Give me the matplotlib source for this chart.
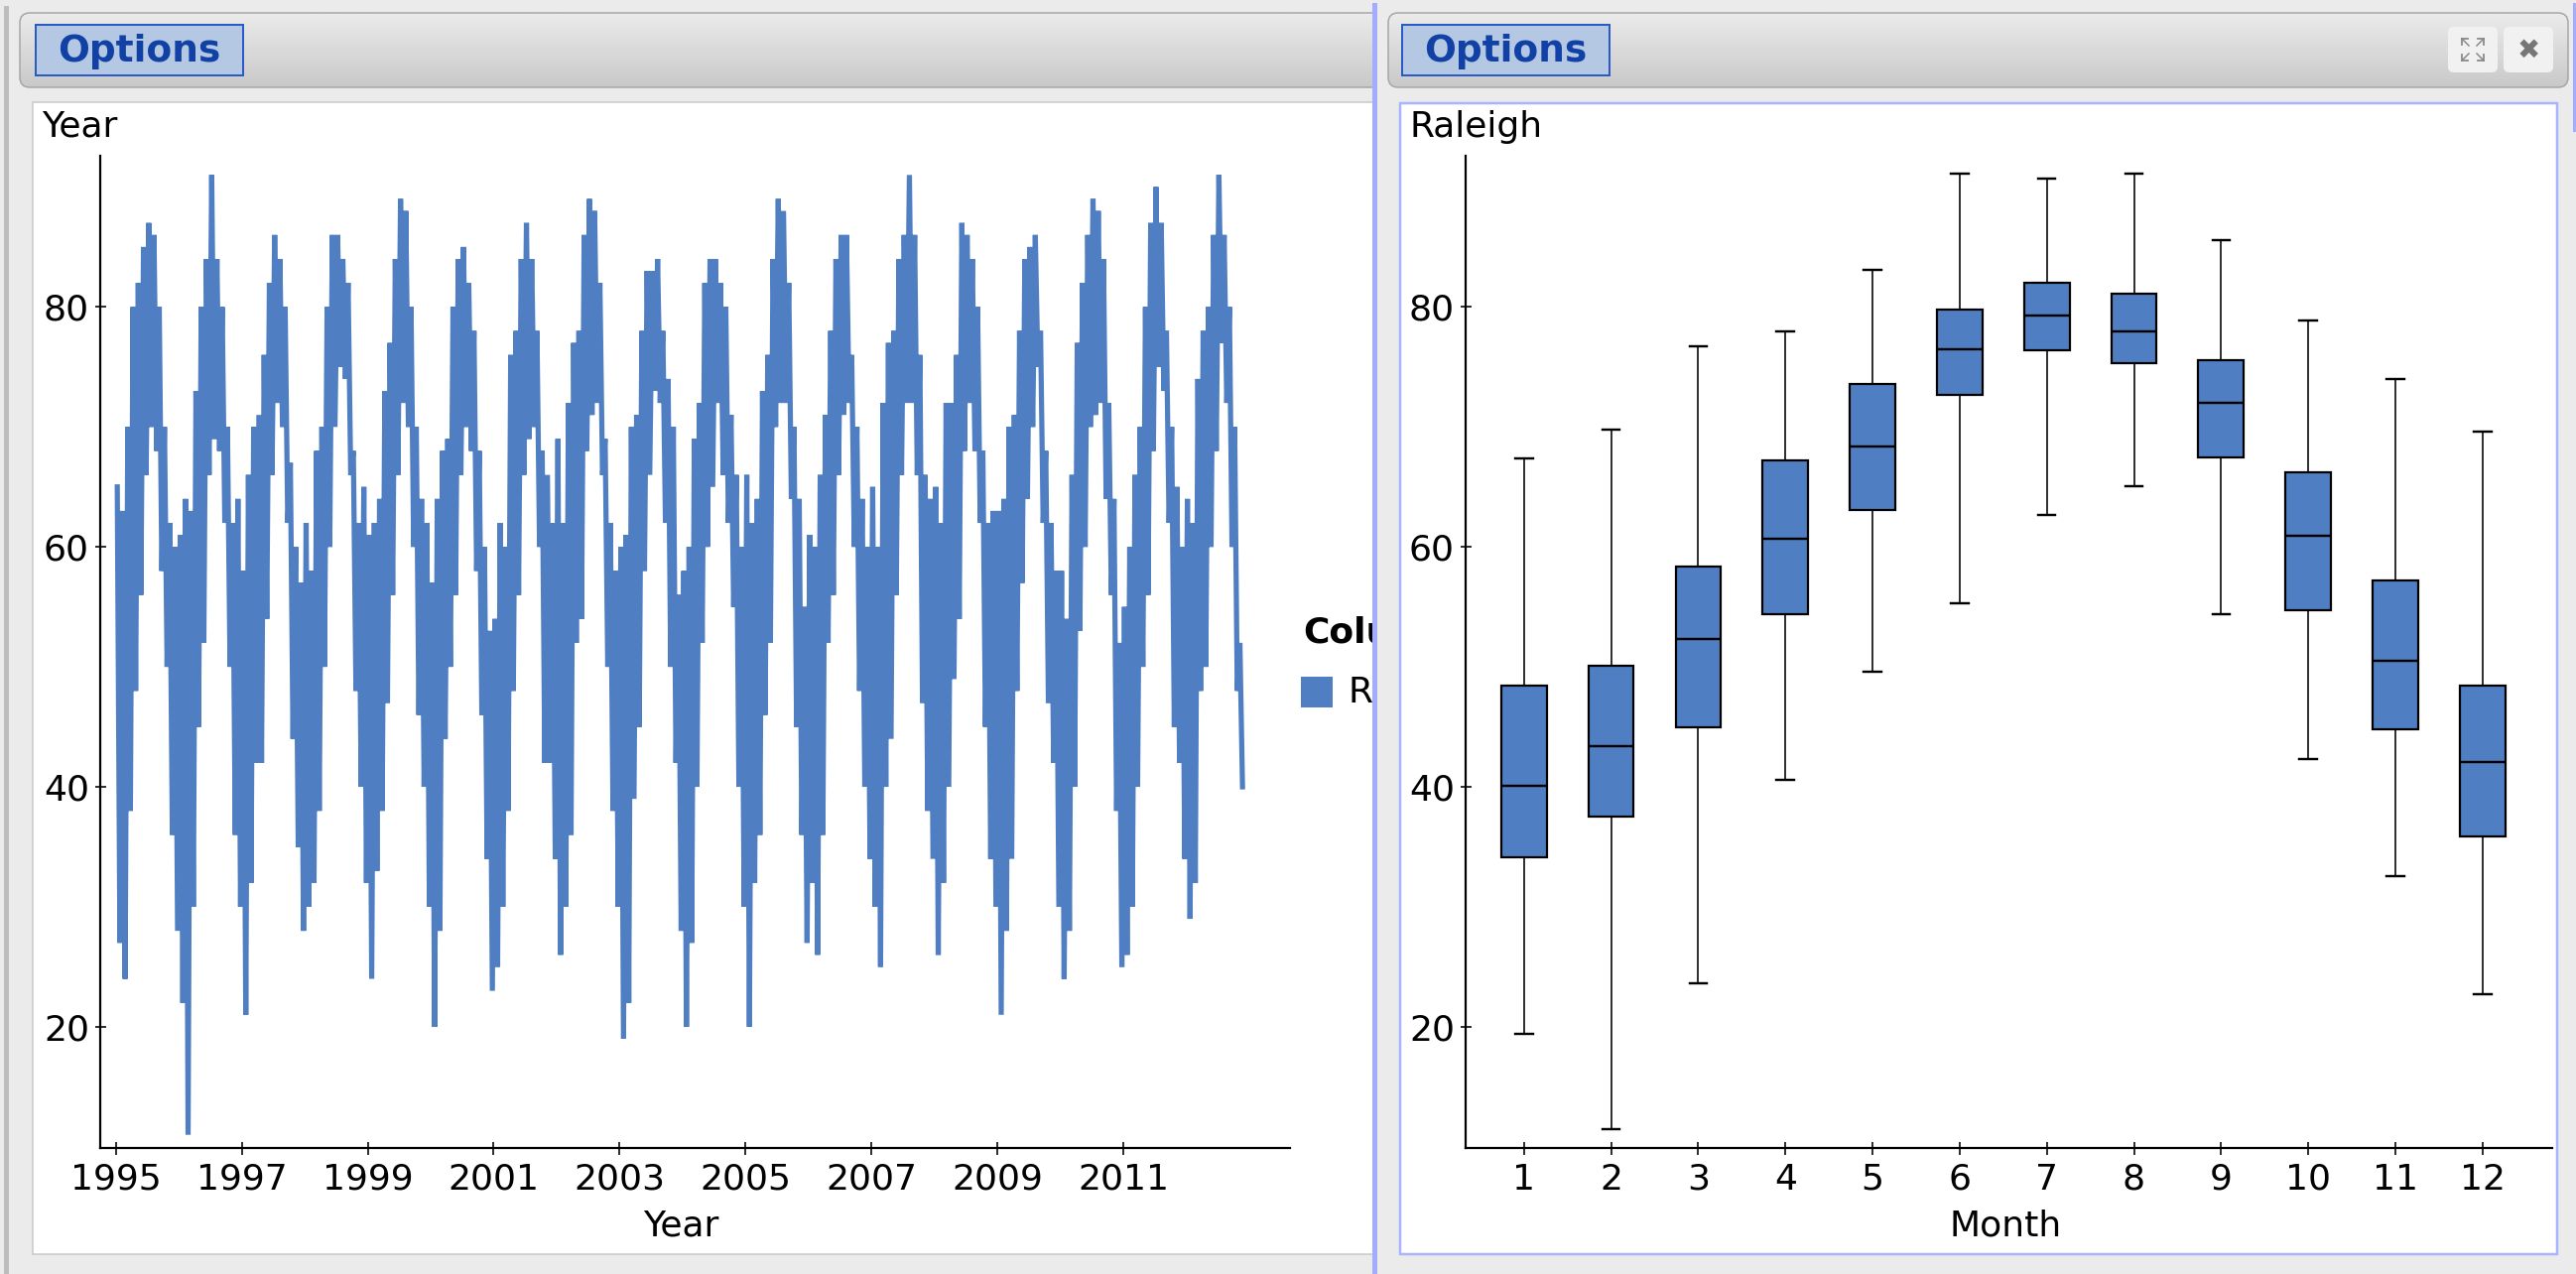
import numpy as np
import matplotlib
matplotlib.use('Agg')
import matplotlib.pyplot as plt
from matplotlib.patches import Rectangle, FancyBboxPatch
from matplotlib.colors import LinearSegmentedColormap

# ---------------- data ----------------
years = list(range(1995, 2013))
# monthly highest / lowest daily temperature (Jan..Dec)
monthly_high = [
    [65, 63, 70, 80, 82, 85, 87, 86, 80, 70, 62, 60],  # 1995
    [61, 64, 63, 73, 80, 84, 91, 84, 80, 70, 62, 64],  # 1996
    [58, 66, 70, 71, 76, 82, 86, 84, 80, 67, 60, 57],  # 1997
    [62, 58, 68, 70, 80, 86, 86, 84, 82, 68, 62, 65],  # 1998
    [61, 62, 64, 73, 77, 84, 89, 88, 80, 70, 64, 62],  # 1999
    [57, 64, 68, 69, 80, 84, 85, 82, 78, 68, 60, 53],  # 2000
    [54, 62, 60, 76, 78, 84, 87, 84, 78, 68, 66, 62],  # 2001
    [69, 62, 72, 77, 78, 86, 89, 88, 82, 69, 62, 58],  # 2002
    [60, 61, 70, 71, 78, 83, 83, 84, 78, 74, 70, 56],  # 2003
    [58, 60, 69, 72, 82, 84, 84, 82, 80, 71, 66, 60],  # 2004
    [66, 62, 64, 73, 76, 84, 89, 88, 82, 70, 64, 55],  # 2005
    [61, 60, 66, 71, 78, 84, 86, 86, 76, 70, 64, 60],  # 2006
    [65, 60, 72, 77, 78, 84, 86, 91, 86, 76, 66, 64],  # 2007
    [65, 62, 72, 72, 76, 87, 86, 84, 80, 68, 62, 63],  # 2008
    [63, 64, 70, 71, 78, 84, 85, 86, 78, 68, 62, 58],  # 2009
    [58, 54, 66, 77, 82, 86, 89, 88, 84, 72, 64, 52],  # 2010
    [55, 60, 66, 70, 80, 87, 90, 87, 78, 70, 65, 60],  # 2011
    [64, 62, 74, 78, 80, 86, 91, 86, 80, 70, 52],      # 2012
]
monthly_low = [
    [27, 24, 38, 48, 56, 66, 70, 68, 58, 50, 36, 28],  # 1995
    [22, 11, 30, 45, 52, 66, 69, 68, 62, 50, 36, 30],  # 1996
    [21, 32, 42, 42, 54, 66, 72, 70, 62, 44, 35, 28],  # 1997
    [30, 32, 38, 50, 60, 70, 75, 74, 66, 48, 40, 32],  # 1998
    [24, 33, 38, 47, 56, 66, 72, 70, 60, 46, 40, 30],  # 1999
    [20, 28, 44, 50, 56, 66, 70, 68, 58, 46, 34, 23],  # 2000
    [25, 30, 38, 48, 56, 66, 69, 70, 60, 42, 42, 34],  # 2001
    [26, 30, 36, 52, 54, 68, 71, 72, 66, 50, 38, 30],  # 2002
    [19, 22, 39, 45, 58, 66, 73, 72, 62, 50, 42, 28],  # 2003
    [20, 27, 40, 52, 60, 65, 72, 66, 62, 55, 40, 30],  # 2004
    [20, 32, 36, 46, 52, 70, 72, 72, 64, 45, 36, 27],  # 2005
    [32, 26, 36, 52, 56, 66, 71, 72, 60, 48, 40, 34],  # 2006
    [30, 25, 40, 44, 56, 66, 72, 72, 66, 47, 38, 34],  # 2007
    [26, 32, 40, 49, 54, 68, 72, 68, 62, 45, 34, 30],  # 2008
    [21, 28, 34, 48, 57, 64, 70, 75, 62, 47, 42, 30],  # 2009
    [24, 28, 40, 53, 60, 70, 71, 72, 64, 56, 38, 25],  # 2010
    [26, 30, 40, 50, 56, 68, 75, 73, 62, 45, 42, 34],  # 2011
    [29, 32, 48, 50, 60, 68, 77, 72, 60, 48, 40],      # 2012
]
year_ticks = [1995, 1997, 1999, 2001, 2003, 2005, 2007, 2009, 2011]

months = [1, 2, 3, 4, 5, 6, 7, 8, 9, 10, 11, 12]
whisker_low = [19.4, 11.5, 23.6, 40.6, 49.6, 55.3, 62.7, 65.1, 54.4, 42.3, 32.6, 22.7]
q1 = [34.1, 37.5, 45.0, 54.4, 63.1, 72.7, 76.4, 75.3, 67.5, 54.7, 44.8, 35.9]
median = [40.1, 43.4, 52.3, 60.7, 68.4, 76.5, 79.3, 78.0, 72.0, 60.9, 50.5, 42.1]
q3 = [48.4, 50.1, 58.4, 67.2, 73.6, 79.8, 82.0, 81.1, 75.6, 66.2, 57.2, 48.4]
whisker_high = [67.4, 69.8, 76.7, 78.0, 83.1, 91.1, 90.7, 91.1, 85.6, 78.9, 74.0, 69.6]

y_ticks = [20, 40, 60, 80]

# ---------------- layout helpers ----------------
W, H = 2596, 1284
PX = 0.72  # points per pixel at dpi 100
BLUE = '#4f7fc2'
FS = 26

fig = plt.figure(figsize=(W / 100, H / 100), dpi=100, facecolor='#ebebeb')


def fr(x0, y0, x1, y1):
    return [x0 / W, 1 - y1 / H, (x1 - x0) / W, (y1 - y0) / H]


bg = fig.add_axes([0, 0, 1, 1])
bg.axis('off')
hdr_cmap = LinearSegmentedColormap.from_list('hdr', ['#ebebeb', '#c9c9c9'])
grad = np.linspace(0, 1, 64).reshape(-1, 1)


def header(x0, x1, z):
    p = FancyBboxPatch((x0, 13), x1 - x0, 75, boxstyle='round,pad=0,rounding_size=10',
                       fc='none', ec='#a6a6a6', lw=1.5 * PX, zorder=z + 0.5)
    bg.add_patch(p)
    im = bg.imshow(grad, extent=(x0, x1, 88, 13), cmap=hdr_cmap, aspect='auto',
                   origin='upper', zorder=z, interpolation='bilinear')
    im.set_clip_path(p)


def options(x0, z):
    bg.add_patch(Rectangle((x0, 25), 209, 51, fc='#b4c8e4', ec='#2a5bc4', lw=2 * PX, zorder=z))
    bg.text(x0 + 104.5, 51.5, 'Options', ha='center', va='center', fontsize=27,
            fontweight='bold', color='#1241a6', zorder=z + 0.1)


# left edge stripe
bg.add_patch(Rectangle((4, 6), 5, H, fc='#bdbdbd', ec='none', zorder=1))

# left panel
header(20, 1400, 2)
options(36, 3)
bg.add_patch(Rectangle((33, 103), 1360, 1161, fc='white', ec='#c8c8c8', lw=1.5 * PX, zorder=1))
bg.text(42, 128, 'Year', ha='left', va='center', fontsize=FS, zorder=3)
# legend (partially hidden by the right panel)
bg.text(1313, 637, 'Column', ha='left', va='center', fontsize=FS, fontweight='bold', zorder=3)
bg.add_patch(Rectangle((1311, 682), 32, 31, fc=BLUE, ec='none', zorder=3))
bg.text(1358, 698, 'Raleigh', ha='left', va='center', fontsize=FS, zorder=3)

# gap + selected border of the right container
bg.add_patch(Rectangle((1388, 0), W - 1388, H, fc='#ebebeb', ec='none', zorder=6))
bg.add_patch(Rectangle((1383, 3), 5, H, fc='#a3acff', ec='none', zorder=6.5))
bg.add_patch(Rectangle((2593, 3), 3, 130, fc='#a3acff', ec='none', zorder=6.5))

# right panel
header(1399, 2588, 7)
options(1413, 8)
for bx in (2467, 2523):
    bg.add_patch(FancyBboxPatch((bx, 27), 50, 46, boxstyle='round,pad=0,rounding_size=6',
                                fc='#f1f1f1', ec='none', zorder=8))
bg.text(2548, 51, '\u2716', ha='center', va='center', fontsize=20, color='#767676', zorder=9)
cx, cy = 2492, 50
for dx in (-1, 1):
    for dy in (-1, 1):
        bg.plot([cx + dx * 4, cx + dx * 11], [cy + dy * 4, cy + dy * 11], color='#8a8a8a', lw=1.5 * PX, zorder=9)
        bg.plot([cx + dx * 11, cx + dx * 5], [cy + dy * 11, cy + dy * 11], color='#8a8a8a', lw=1.8 * PX, zorder=9)
        bg.plot([cx + dx * 11, cx + dx * 11], [cy + dy * 11, cy + dy * 5], color='#8a8a8a', lw=1.8 * PX, zorder=9)
bg.add_patch(Rectangle((1411, 104), 1166, 1160, fc='white', ec='#a8b4ff', lw=2.5 * PX, zorder=7))
bg.text(1420, 128, 'Raleigh', ha='left', va='center', fontsize=FS, zorder=8)

bg.set_xlim(0, W)
bg.set_ylim(H, 0)


def style_axis(ax):
    ax.set_facecolor('none')
    for s in ('top', 'right'):
        ax.spines[s].set_visible(False)
    for s in ('left', 'bottom'):
        ax.spines[s].set_linewidth(2.2 * PX)
        ax.spines[s].set_color('black')
    ax.tick_params(axis='x', direction='inout', length=13 * PX, width=1.6 * PX, labelsize=FS, pad=6)
    ax.tick_params(axis='y', direction='inout', length=11 * PX, width=1.6 * PX, labelsize=FS, pad=4)
    ax.set_ylim(9.9, 92.6)
    ax.set_yticks(y_ticks)


# ---------------- left: time series ----------------
ax1 = fig.add_axes(fr(101, 157, 1300, 1157))
style_axis(ax1)
xs, ys = [], []
for yi, yr in enumerate(years):
    for m in range(len(monthly_high[yi])):
        xs += [yr + (m + 0.25) / 12, yr + (m + 0.75) / 12]
        ys += [monthly_high[yi][m], monthly_low[yi][m]]
ax1.plot(xs, ys, color=BLUE, lw=5.2 * PX, solid_joinstyle='miter')
ax1.set_xlim(1994.75, 2013.65)
ax1.set_xticks(year_ticks)
ax1.set_xticklabels([str(y) for y in year_ticks])
ax1.set_xlabel('Year', fontsize=FS)
ax1.xaxis.set_label_coords(0.488, -0.062)

# ---------------- right: box plot ----------------
ax2 = fig.add_axes(fr(1477, 157, 2572, 1157))
style_axis(ax2)
stats = [dict(whislo=whisker_low[i], q1=q1[i], med=median[i], q3=q3[i], whishi=whisker_high[i],
              label=str(months[i])) for i in range(len(months))]
ax2.bxp(stats, positions=months, widths=0.52, patch_artist=True, showfliers=False,
        capwidths=0.2,
        boxprops=dict(facecolor=BLUE, edgecolor='black', linewidth=2.2 * PX),
        medianprops=dict(color='black', linewidth=2.4 * PX),
        whiskerprops=dict(color='black', linewidth=1.6 * PX),
        capprops=dict(color='black', linewidth=2.4 * PX))
ax2.set_xlim(0.33, 12.8)
ax2.set_xticks(months)
ax2.set_xticklabels([str(m) for m in months])
ax2.set_xlabel('Month', fontsize=FS)
ax2.xaxis.set_label_coords(0.497, -0.062)

fig.savefig('out.png', dpi=100, facecolor=fig.get_facecolor())
